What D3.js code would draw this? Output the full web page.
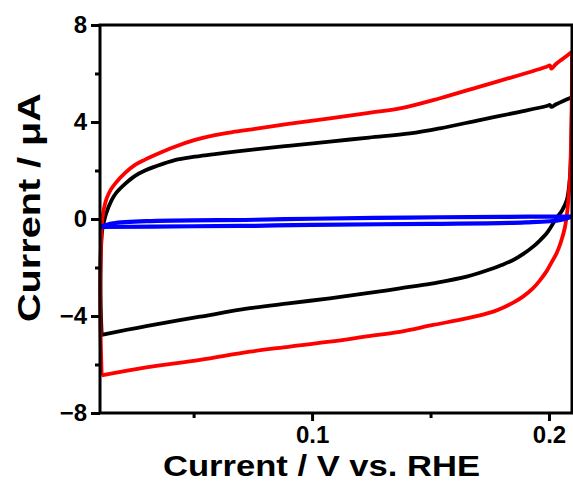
<!DOCTYPE html>
<html>
<head>
<meta charset="utf-8">
<script src="https://cdn.jsdelivr.net/npm/d3@7"></script>
<style>
  body { margin: 0; background: #fff; }
  svg { display: block; font-family: "Liberation Sans", Arial, sans-serif; }
</style>
</head>
<body>
<svg id="cv" width="573" height="482"></svg>
<script>
// potential (V vs RHE), current (uA)
// each loop: forward sweep (left -> right) then reverse sweep (right -> left)
const blackForward = [
  [0.0112, -4.78], [0.0108, -3.6], [0.0107, -2.4], [0.0109, -1.3], [0.0114, -0.5],
  [0.0122, -0.1], [0.0130, 0.2], [0.0154, 0.78], [0.0175, 1.1], [0.0211, 1.45],
  [0.0253, 1.78], [0.0295, 2.0], [0.0337, 2.16], [0.0421, 2.43], [0.0506, 2.57],
  [0.0590, 2.68], [0.0675, 2.78], [0.0759, 2.87], [0.0900, 3.02], [0.1075, 3.19],
  [0.1240, 3.36], [0.1413, 3.53], [0.1540, 3.74], [0.1708, 4.08], [0.1877, 4.42],
  [0.1990, 4.66], [0.2004, 4.7], [0.2010, 4.62], [0.2028, 4.72], [0.2060, 4.87], [0.2097, 5.02]
];
const blackReverse = [
  [0.2097, 5.02], [0.2096, 4.0], [0.2094, 3.0], [0.2090, 2.0], [0.2084, 1.3],
  [0.2075, 0.78], [0.2055, 0.35], [0.2032, 0.05], [0.2010, -0.3], [0.1990, -0.59],
  [0.1960, -0.9], [0.1933, -1.14], [0.1890, -1.45], [0.1849, -1.69], [0.1800, -1.9],
  [0.1765, -2.03], [0.1652, -2.38], [0.1511, -2.65], [0.1371, -2.86],
  [0.1240, -3.05], [0.1075, -3.27], [0.0900, -3.48], [0.0738, -3.68], [0.0527, -4.03],
  [0.0300, -4.42], [0.0112, -4.78]
];
const redForward = [
  [0.0112, -6.45], [0.0108, -5.0], [0.0106, -3.5], [0.0107, -2.0], [0.0110, -0.8],
  [0.0115, 0.0], [0.0122, 0.45], [0.0133, 0.85], [0.0150, 1.2], [0.0168, 1.45],
  [0.0211, 1.9], [0.0253, 2.23], [0.0295, 2.45], [0.0337, 2.64], [0.0421, 2.98],
  [0.0506, 3.26], [0.0590, 3.46], [0.0675, 3.6], [0.0759, 3.72], [0.0900, 3.92],
  [0.1075, 4.15], [0.1240, 4.38], [0.1371, 4.56], [0.1540, 4.98], [0.1708, 5.46],
  [0.1877, 5.94], [0.1990, 6.28], [0.2004, 6.33], [0.2010, 6.2], [0.2028, 6.38],
  [0.2060, 6.62], [0.2097, 6.9]
];
const redReverse = [
  [0.2097, 6.9], [0.2096, 5.0], [0.2093, 3.2], [0.2089, 1.8], [0.2084, 1.1],
  [0.2078, 0.4], [0.2067, -0.35], [0.2050, -0.95], [0.2032, -1.41], [0.2010, -1.8],
  [0.1990, -2.15], [0.1960, -2.55], [0.1933, -2.85], [0.1890, -3.2], [0.1849, -3.45],
  [0.1810, -3.64], [0.1765, -3.82], [0.1652, -4.1], [0.1511, -4.37],
  [0.1371, -4.65], [0.1240, -4.83], [0.1075, -5.06], [0.0900, -5.27], [0.0738, -5.47],
  [0.0527, -5.81], [0.0300, -6.12], [0.0112, -6.45]
];
const blueForward = [
  [0.0105, -0.33], [0.0130, -0.25], [0.0160, -0.18], [0.0300, -0.09], [0.0760, -0.03],
  [0.1000, 0.01], [0.1400, 0.06], [0.1800, 0.09], [0.2097, 0.1]
];
const blueReverse = [
  [0.2097, 0.1], [0.2050, -0.04], [0.1900, -0.14], [0.1500, -0.2], [0.1000, -0.24],
  [0.0760, -0.28], [0.0500, -0.3], [0.0105, -0.33]
];

const xTicks = [0.1, 0.2];
const xMinor = [0.05, 0.15];
const yTicks = [-8, -4, 0, 4, 8];
const yMinor = [-6, -2, 2, 6];

const margin = {left: 100, right: 1, top: 25, bottom: 69};
const width = 573, height = 482;

const x = d3.scaleLinear().domain([0.0105, 0.2097]).range([margin.left, width - margin.right]);
const y = d3.scaleLinear().domain([-8, 8]).range([height - margin.bottom, margin.top]);

const svg = d3.select("#cv");

svg.append("clipPath").attr("id", "plot")
  .append("rect")
    .attr("x", margin.left - 2).attr("y", margin.top)
    .attr("width", width - margin.left - margin.right + 2)
    .attr("height", height - margin.top - margin.bottom);

const line = d3.line()
    .x(d => x(d[0]))
    .y(d => y(d[1]))
    .curve(d3.curveCatmullRom.alpha(0.5));

const series = [
  {data: [blackForward, blackReverse], color: "#000000", w: 3.8},
  {data: [redForward, redReverse], color: "#ff0000", w: 3.8},
  {data: [blueForward, blueReverse], color: "#0000ff", w: 4.2}
];

const g = svg.append("g").attr("clip-path", "url(#plot)");
series.forEach(s => {
  s.data.forEach(branch => {
    g.append("path")
      .attr("d", line(branch))
      .attr("fill", "none")
      .attr("stroke", s.color)
      .attr("stroke-width", s.w)
      .attr("stroke-linejoin", "round");
  });
});

// axes
const fmtX = d3.format(".1f");
svg.append("g")
    .attr("transform", `translate(0,${height - margin.bottom})`)
    .call(d3.axisBottom(x).tickValues(xTicks).tickFormat(fmtX).tickSize(8).tickPadding(5))
    .call(a => a.select(".domain").remove());
svg.append("g")
    .attr("transform", `translate(0,${height - margin.bottom})`)
    .call(d3.axisBottom(x).tickValues(xMinor).tickFormat("").tickSize(5))
    .call(a => a.select(".domain").remove());
svg.append("g")
    .attr("transform", `translate(${margin.left},0)`)
    .call(d3.axisLeft(y).tickValues(yTicks).tickSize(9).tickPadding(4))
    .call(a => a.select(".domain").remove());
svg.append("g")
    .attr("transform", `translate(${margin.left},0)`)
    .call(d3.axisLeft(y).tickValues(yMinor).tickFormat("").tickSize(5))
    .call(a => a.select(".domain").remove());

svg.selectAll(".tick line").attr("stroke", "#000").attr("stroke-width", 3);
svg.selectAll(".tick text")
    .attr("fill", "#000")
    .attr("font-size", 24)
    .attr("font-weight", "bold")
    .attr("font-family", "Liberation Sans, Arial, sans-serif");

// frame
svg.append("rect")
    .attr("x", margin.left).attr("y", margin.top)
    .attr("width", width - margin.left - margin.right)
    .attr("height", height - margin.top - margin.bottom)
    .attr("fill", "none")
    .attr("stroke", "#000")
    .attr("stroke-width", 3);

svg.append("text")
    .attr("x", 163).attr("y", 476)
    .attr("font-size", 29)
    .attr("font-weight", "bold")
    .attr("textLength", 317)
    .attr("lengthAdjust", "spacingAndGlyphs")
    .text("Current / V vs. RHE");

svg.append("text")
    .attr("transform", "translate(40,322) rotate(-90)")
    .attr("font-size", 31)
    .attr("font-weight", "bold")
    .attr("textLength", 229)
    .attr("lengthAdjust", "spacingAndGlyphs")
    .text("Current / μA");
</script>
</body>
</html>
